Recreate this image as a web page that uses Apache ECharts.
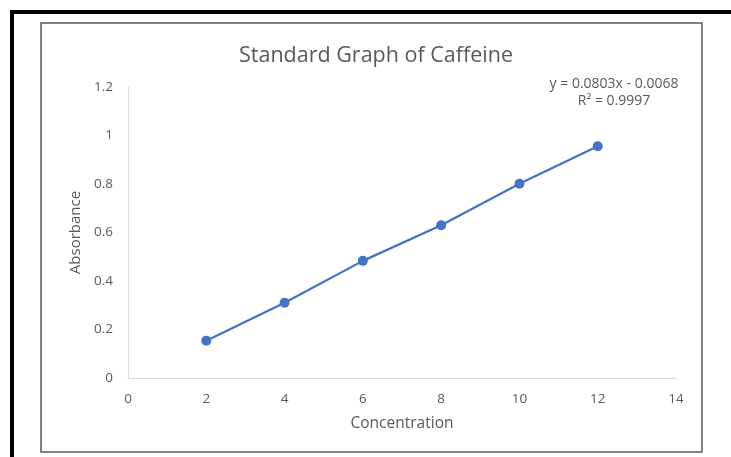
<!DOCTYPE html>
<html><head><meta charset="utf-8">
<script src="https://cdn.jsdelivr.net/npm/echarts@6/dist/echarts.min.js"></script>
<style>html,body{margin:0;padding:0;background:#fff}#c{width:731px;height:457px}</style>
</head><body><div id="c"></div>
<script>
const concentration = [2, 4, 6, 8, 10, 12];
const absorbance = [0.154, 0.310, 0.483, 0.630, 0.801, 0.956];
const titleText = 'Standard Graph of Caffeine';
const equationText = 'y = 0.0803x - 0.0068\nR² = 0.9997';
const xName = 'Concentration';
const yName = 'Absorbance';

const font = 'Open Sans, Noto Sans, sans-serif';
const chart = echarts.init(document.getElementById('c'));
chart.setOption({
  animation: false,
  backgroundColor: '#fff',
  title: [
    { text: titleText, left: 371, top: 40, textAlign: 'center',
      textStyle: { fontFamily: font, fontSize: 21.5, fontWeight: 'normal', color: '#595959' } },
    { text: equationText, left: 609, top: 70, textAlign: 'center',
      textStyle: { fontFamily: font, fontSize: 14, fontWeight: 'normal', color: '#595959', lineHeight: 17.5, align: 'center' } }
  ],
  grid: { left: 128, right: 55, top: 87, bottom: 79 },
  xAxis: {
    type: 'value', min: 0, max: 14, interval: 2,
    name: xName, nameLocation: 'middle', nameGap: 38,
    nameTextStyle: { fontFamily: font, fontSize: 15.5, color: '#595959' },
    axisLine: { show: true, lineStyle: { color: '#d9d9d9', width: 1 } },
    axisTick: { show: false },
    splitLine: { show: false },
    axisLabel: { fontFamily: font, fontSize: 13.5, color: '#595959', margin: 14 }
  },
  yAxis: {
    type: 'value', min: 0, max: 1.2, interval: 0.2,
    name: yName, nameLocation: 'middle', nameGap: 43,
    nameTextStyle: { fontFamily: font, fontSize: 15, color: '#595959' },
    axisLine: { show: true, lineStyle: { color: '#d9d9d9', width: 1 } },
    axisTick: { show: false },
    splitLine: { show: false },
    axisLabel: { fontFamily: font, fontSize: 13.5, color: '#595959', margin: 15 }
  },
  series: [{
    type: 'line',
    data: concentration.map((x, i) => [x, absorbance[i]]),
    symbol: 'circle', symbolSize: 10,
    lineStyle: { color: '#4472c4', width: 2.25 },
    itemStyle: { color: '#4472c4' }
  }],
  graphic: [
    { type: 'rect', shape: { x: 12, y: 12, width: 760, height: 500 },
      style: { fill: 'none', stroke: '#000', lineWidth: 4 }, z: 100 },
    { type: 'rect', shape: { x: 41, y: 23, width: 661, height: 429 },
      style: { fill: 'none', stroke: '#595959', lineWidth: 1.5 }, z: 100 }
  ]
});
</script></body></html>
